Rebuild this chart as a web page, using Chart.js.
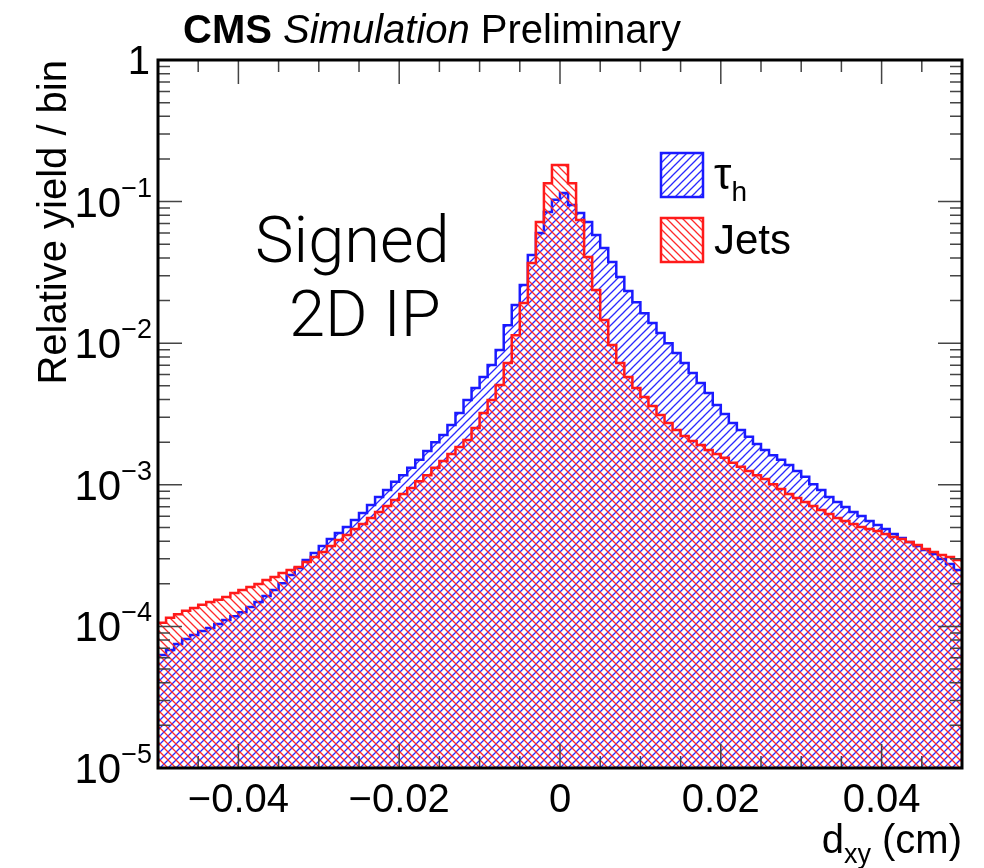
<!DOCTYPE html>
<html>
<head>
<meta charset="utf-8">
<title>Signed 2D IP</title>
<script src="https://cdn.jsdelivr.net/npm/chart.js@4.4.1/dist/chart.umd.min.js"></script>
<style>
  html, body { margin: 0; padding: 0; background: #fff; }
  canvas { display: block; }
</style>
</head>
<body>
<canvas id="ipChart" width="984" height="868"></canvas>
<script>
// binning of d_xy (cm)
var xMin = -0.05, xMax = 0.05, nBins = 100;
var xTickValues = [-0.04, -0.02, 0, 0.02, 0.04];
var yTickExponents = [-5, -4, -3, -2, -1, 0];

// relative yield / bin (one value per bin, left to right)
var tauValues = [
    6.28e-5, 6.81e-5, 7.51e-5, 8.15e-5, 8.69e-5, 9.29e-5, 9.75e-5, 1.04e-4, 1.11e-4, 1.18e-4,
    1.26e-4, 1.37e-4, 1.49e-4, 1.64e-4, 1.81e-4, 2.02e-4, 2.31e-4, 2.58e-4, 2.94e-4, 3.30e-4,
    3.70e-4, 4.14e-4, 4.57e-4, 5.04e-4, 5.64e-4, 6.32e-4, 7.20e-4, 8.20e-4, 9.19e-4, 1.05e-3,
    1.17e-3, 1.32e-3, 1.50e-3, 1.73e-3, 2.00e-3, 2.25e-3, 2.64e-3, 3.21e-3, 3.97e-3, 4.83e-3,
    5.77e-3, 7.01e-3, 8.95e-3, 1.34e-2, 1.86e-2, 2.58e-2, 4.20e-2, 6.00e-2, 8.45e-2, 0.103,
    0.115, 9.46e-2, 8.30e-2, 7.18e-2, 5.81e-2, 4.70e-2, 3.74e-2, 2.94e-2, 2.34e-2, 1.95e-2,
    1.63e-2, 1.39e-2, 1.18e-2, 1.00e-2, 8.53e-3, 7.24e-3, 6.16e-3, 5.24e-3, 4.45e-3, 3.66e-3,
    3.16e-3, 2.73e-3, 2.44e-3, 2.18e-3, 1.94e-3, 1.76e-3, 1.62e-3, 1.50e-3, 1.38e-3, 1.25e-3,
    1.14e-3, 1.01e-3, 9.19e-4, 8.20e-4, 7.56e-4, 6.97e-4, 6.43e-4, 6.02e-4, 5.55e-4, 5.20e-4,
    4.88e-4, 4.50e-4, 4.21e-4, 3.94e-4, 3.70e-4, 3.47e-4, 3.25e-4, 2.99e-4, 2.76e-4, 2.50e-4
];
var jetValues = [
    1.06e-4, 1.15e-4, 1.22e-4, 1.29e-4, 1.35e-4, 1.42e-4, 1.49e-4, 1.54e-4, 1.61e-4, 1.72e-4,
    1.81e-4, 1.90e-4, 1.99e-4, 2.13e-4, 2.23e-4, 2.38e-4, 2.50e-4, 2.63e-4, 2.85e-4, 3.09e-4,
    3.35e-4, 3.70e-4, 4.07e-4, 4.42e-4, 4.88e-4, 5.29e-4, 5.83e-4, 6.43e-4, 7.08e-4, 7.81e-4,
    8.61e-4, 9.48e-4, 1.06e-3, 1.17e-3, 1.32e-3, 1.47e-3, 1.65e-3, 1.85e-3, 2.07e-3, 2.52e-3,
    3.21e-3, 3.97e-3, 5.07e-3, 7.24e-3, 1.14e-2, 1.92e-2, 3.68e-2, 7.18e-2, 0.135, 0.181,
    0.181, 0.135, 7.41e-2, 4.06e-2, 2.38e-2, 1.46e-2, 9.71e-3, 7.24e-3, 5.77e-3, 4.83e-3,
    4.17e-3, 3.60e-3, 3.11e-3, 2.73e-3, 2.44e-3, 2.21e-3, 2.04e-3, 1.91e-3, 1.76e-3, 1.65e-3,
    1.55e-3, 1.43e-3, 1.34e-3, 1.25e-3, 1.17e-3, 1.10e-3, 1.01e-3, 9.33e-4, 8.61e-4, 8.07e-4,
    7.56e-4, 7.08e-4, 6.64e-4, 6.22e-4, 5.83e-4, 5.55e-4, 5.29e-4, 5.04e-4, 4.88e-4, 4.72e-4,
    4.50e-4, 4.28e-4, 4.14e-4, 3.94e-4, 3.76e-4, 3.52e-4, 3.35e-4, 3.19e-4, 3.09e-4, 2.94e-4
];

var BLUE = '#1a1aff', RED = '#ff1a1a';
var FONT = '"Liberation Sans", Arial, Helvetica, sans-serif';
var canvas = document.getElementById('ipChart');
var mainCtx = canvas.getContext('2d');

// ROOT style hatch: dir 1 = "/", dir -1 = "\"
function hatch(color, dir) {
    var c = document.createElement('canvas');
    c.width = 8; c.height = 8;
    var g = c.getContext('2d');
    g.strokeStyle = color;
    g.lineWidth = 1.3;
    g.beginPath();
    if (dir > 0) {
        g.moveTo(-1, 9); g.lineTo(9, -1);
        g.moveTo(-3, 3); g.lineTo(3, -3);
        g.moveTo(5, 11); g.lineTo(11, 5);
    } else {
        g.moveTo(-1, -1); g.lineTo(9, 9);
        g.moveTo(-3, 5); g.lineTo(3, 11);
        g.moveTo(5, -3); g.lineTo(11, 3);
    }
    g.stroke();
    return mainCtx.createPattern(c, 'repeat');
}
var blueHatch = hatch('#2a2aff', 1);
var redHatch = hatch('#ff2a2a', -1);

// histogram -> step points at the bin low edges, plus the last upper edge
function steps(values) {
    var w = (xMax - xMin) / nBins, pts = [];
    for (var i = 0; i < nBins; i++) pts.push({ x: xMin + i * w, y: values[i] });
    pts.push({ x: xMax, y: values[nBins - 1] });
    return pts;
}

function textRuns(ctx, runs, x, y, align) {
    var total = 0;
    runs.forEach(function (r) { ctx.font = r.font; r.w = ctx.measureText(r.text).width; total += r.w; });
    var cx = align === 'right' ? x - total : x;
    ctx.textAlign = 'left';
    runs.forEach(function (r) {
        ctx.font = r.font;
        ctx.fillText(r.text, cx, y + (r.dy || 0));
        cx += r.w;
    });
}

var decorations = {
    id: 'decorations',
    afterDatasetsDraw: function (chart) {
        var ctx = chart.ctx, a = chart.chartArea;
        var xs = chart.scales.x, ys = chart.scales.y;
        ctx.save();

        // ticks on all four sides, pointing inward
        ctx.strokeStyle = '#444';
        ctx.lineWidth = 1.5;
        ctx.beginPath();
        for (var e = -5; e <= 0; e++) {
            for (var m = 1; m <= (e < 0 ? 9 : 1); m++) {
                var py = ys.getPixelForValue(m * Math.pow(10, e));
                var len = m === 1 ? 24 : 12;
                ctx.moveTo(a.left, py); ctx.lineTo(a.left + len, py);
                ctx.moveTo(a.right, py); ctx.lineTo(a.right - len, py);
            }
        }
        for (var k = 0; k <= 20; k++) {
            var v = xMin + k * 0.005;
            var major = xTickValues.some(function (t) { return Math.abs(t - v) < 1e-9; });
            var px = xs.getPixelForValue(v);
            var l = major ? 24 : 12;
            ctx.moveTo(px, a.bottom); ctx.lineTo(px, a.bottom - l);
            ctx.moveTo(px, a.top); ctx.lineTo(px, a.top + l);
        }
        ctx.stroke();

        ctx.strokeStyle = '#000';
        ctx.lineWidth = 3;
        ctx.strokeRect(a.left, a.top, a.right - a.left, a.bottom - a.top);

        ctx.fillStyle = '#000';
        ctx.textBaseline = 'alphabetic';

        // x tick labels
        ctx.font = '40px ' + FONT;
        ctx.textAlign = 'center';
        xTickValues.forEach(function (t) {
            var s = t === 0 ? '0' : (t < 0 ? '\u2212' : '') + Math.abs(t).toFixed(2);
            ctx.fillText(s, xs.getPixelForValue(t), a.bottom + 44);
        });

        // y tick labels 10^n
        yTickExponents.forEach(function (n) {
            var py = ys.getPixelForValue(Math.pow(10, n));
            if (n === 0) {
                ctx.font = '40px ' + FONT;
                ctx.textAlign = 'right';
                ctx.fillText('1', 150, py + 14);
            } else {
                textRuns(ctx, [
                    { text: '10', font: '42px ' + FONT, dy: 15 },
                    { text: '\u2212' + Math.abs(n), font: '27px ' + FONT, dy: -5 }
                ], 152, py, 'right');
            }
        });

        // y title
        ctx.save();
        ctx.translate(66, a.top);
        ctx.rotate(-Math.PI / 2);
        ctx.font = '40px ' + FONT;
        ctx.textAlign = 'right';
        ctx.fillText('Relative yield / bin', 0, 0);
        ctx.restore();

        // x title
        textRuns(ctx, [
            { text: 'd', font: '40px ' + FONT },
            { text: 'xy', font: '27px ' + FONT, dy: 10 },
            { text: ' (cm)', font: '40px ' + FONT }
        ], a.right, 853, 'right');

        // header
        textRuns(ctx, [
            { text: 'CMS ', font: 'bold 40px ' + FONT },
            { text: 'Simulation ', font: 'italic 40px ' + FONT },
            { text: 'Preliminary', font: '40px ' + FONT }
        ], 183, 43, 'left');

        // annotation
        ctx.font = '300 65px Roboto, "Open Sans", ' + FONT;
        ctx.textAlign = 'left';
        ctx.fillText('Signed', 255, 262);
        ctx.fillText('2D IP', 289, 336);

        // legend
        [[blueHatch, BLUE, 153, [{ text: '\u03c4', font: '44px ' + FONT, dy: 0 }, { text: 'h', font: '28px ' + FONT, dy: 12 }]],
         [redHatch, RED, 218, [{ text: 'Jets', font: '42px ' + FONT, dy: 0 }]]].forEach(function (row) {
            ctx.fillStyle = row[0];
            ctx.fillRect(661, row[2], 42, 44);
            ctx.strokeStyle = row[1];
            ctx.lineWidth = 2.5;
            ctx.strokeRect(661, row[2], 42, 44);
            ctx.fillStyle = '#000';
            textRuns(ctx, row[3], 714, row[2] + 36, 'left');
        });

        ctx.restore();
    }
};

new Chart(canvas, {
    type: 'line',
    data: {
        datasets: [{
            label: 'Jets',
            data: steps(jetValues),
            stepped: true,
            borderColor: RED,
            borderWidth: 2.5,
            backgroundColor: redHatch,
            fill: 'start',
            pointRadius: 0
        }, {
            label: '\u03c4h',
            data: steps(tauValues),
            stepped: true,
            borderColor: BLUE,
            borderWidth: 2.5,
            backgroundColor: blueHatch,
            fill: 'start',
            pointRadius: 0
        }]
    },
    options: {
        responsive: false,
        animation: false,
        devicePixelRatio: 1,
        events: [],
        layout: { padding: { top: 60, right: 22, left: 0, bottom: 0 } },
        plugins: { legend: { display: false }, tooltip: { enabled: false } },
        scales: {
            x: {
                type: 'linear', min: xMin, max: xMax,
                grid: { display: false }, border: { display: false },
                ticks: { display: false },
                afterFit: function (s) { s.height = 100; }
            },
            y: {
                type: 'logarithmic', min: 1e-5, max: 1,
                grid: { display: false }, border: { display: false },
                ticks: { display: false },
                afterFit: function (s) { s.width = 158; }
            }
        }
    },
    plugins: [decorations]
});
</script>
</body>
</html>
